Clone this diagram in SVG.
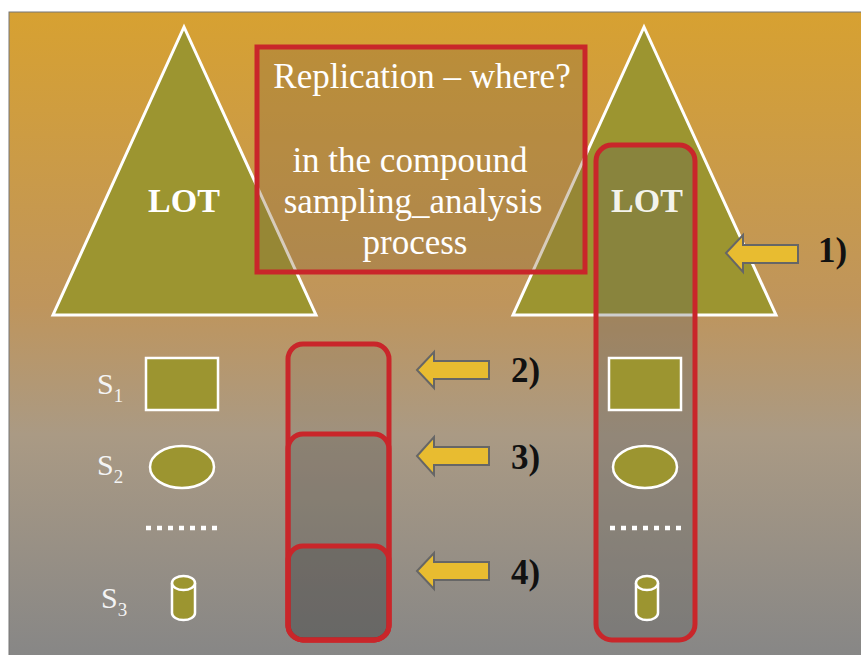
<svg xmlns="http://www.w3.org/2000/svg" width="861" height="655" viewBox="0 0 861 655">
<defs>
<linearGradient id="bg" x1="0" y1="0" x2="0" y2="1">
<stop offset="0" stop-color="#D7A131"/>
<stop offset="0.45" stop-color="#BF955C"/>
<stop offset="0.65" stop-color="#AA9A84"/>
<stop offset="1" stop-color="#868686"/>
</linearGradient>
<style>
.tri{fill:#9C9530;stroke:#fff;stroke-width:3}
.shape{fill:#9C9530;stroke:#fff;stroke-width:2.5}
.red{stroke:#C9262A;stroke-width:5}
.arrow{fill:#E8BC30;stroke:#666;stroke-width:2}
.lot{font-family:"Liberation Serif",serif;font-weight:bold;font-size:34px;fill:#fff;text-anchor:middle}
.box{font-family:"Liberation Serif",serif;font-size:35px;fill:#fff;text-anchor:middle}
.num{font-family:"Liberation Serif",serif;font-weight:bold;font-size:35px;fill:#111}
.s{font-family:"Liberation Serif",serif;font-size:30px;fill:#f4f4f4}
.sub{font-size:19px}
.dots{stroke:#fff;stroke-width:4.5;stroke-dasharray:5 6}
</style>
</defs>
<rect x="0" y="0" width="861" height="655" fill="#fff"/>
<rect x="9" y="12" width="860" height="650" fill="url(#bg)" stroke="#777" stroke-width="1"/>

<g id="lot-left">
<polygon class="tri" points="184,27 53,315 316,315"/>
<text class="lot" x="184" y="212">LOT</text>
</g>
<g id="lot-right">
<polygon class="tri" points="644,27 513,315 776,315"/>
</g>

<g id="question">
<rect x="257" y="47" width="328" height="225" fill="#8C6E40" fill-opacity="0.35" class="red"/>
<text class="box" x="422" y="88">Replication – where?</text>
<text class="box" x="410" y="172">in the compound</text>
<text class="box" x="413" y="213">sampling_analysis</text>
<text class="box" x="415" y="254">process</text>
</g>

<g id="samples-left">
<text class="s" x="97" y="394">S<tspan class="sub" dy="8">1</tspan></text>
<rect class="shape" x="146" y="358" width="72" height="52"/>
<text class="s" x="97" y="475">S<tspan class="sub" dy="8">2</tspan></text>
<ellipse class="shape" cx="182" cy="467" rx="32" ry="21"/>
<line class="dots" x1="146" y1="528" x2="222" y2="528"/>
<text class="s" x="101" y="608">S<tspan class="sub" dy="8">3</tspan></text>
<g id="cyl-left">
<path class="shape" d="M172,583 L172,613 A11.5,7 0 0 0 195,613 L195,583"/>
<ellipse class="shape" cx="183.5" cy="583" rx="11.5" ry="7"/>
</g>
</g>

<g id="column-right">
<rect x="596" y="145" width="99" height="495" rx="16" fill="#5E5E5E" fill-opacity="0.3" class="red"/>
<text class="lot" x="647" y="212" fill-opacity="0.92">LOT</text>
<rect class="shape" x="609" y="358" width="72" height="52"/>
<ellipse class="shape" cx="645" cy="467" rx="32" ry="21"/>
<line class="dots" x1="610" y1="528" x2="686" y2="528"/>
<path class="shape" d="M636,583 L636,613 A11,7 0 0 0 658,613 L658,583"/>
<ellipse class="shape" cx="647" cy="583" rx="11" ry="7"/>
</g>

<g id="column-middle">
<rect x="288" y="344" width="101" height="296" rx="15" fill="#555" fill-opacity="0.12" class="red"/>
<rect x="288" y="434" width="101" height="206" rx="15" fill="#444" fill-opacity="0.2" class="red"/>
<rect x="288" y="546" width="101" height="94" rx="15" fill="#444" fill-opacity="0.28" class="red"/>
</g>

<g id="connectors">
<polygon class="arrow" points="726,253 743,235 743,245 798,245 798,263 743,263 743,272"/>
<polygon class="arrow" points="417,370 434,352 434,361 489,361 489,379 434,379 434,388"/>
<polygon class="arrow" points="417,456 434,437 434,447 489,447 489,465 434,465 434,475"/>
<polygon class="arrow" points="417,571 434,553 434,562 489,562 489,580 434,580 434,589"/>
</g>

<g id="labels">
<text class="num" x="818" y="262">1)</text>
<text class="num" x="511" y="382">2)</text>
<text class="num" x="511" y="469">3)</text>
<text class="num" x="511" y="584">4)</text>
</g>
</svg>
